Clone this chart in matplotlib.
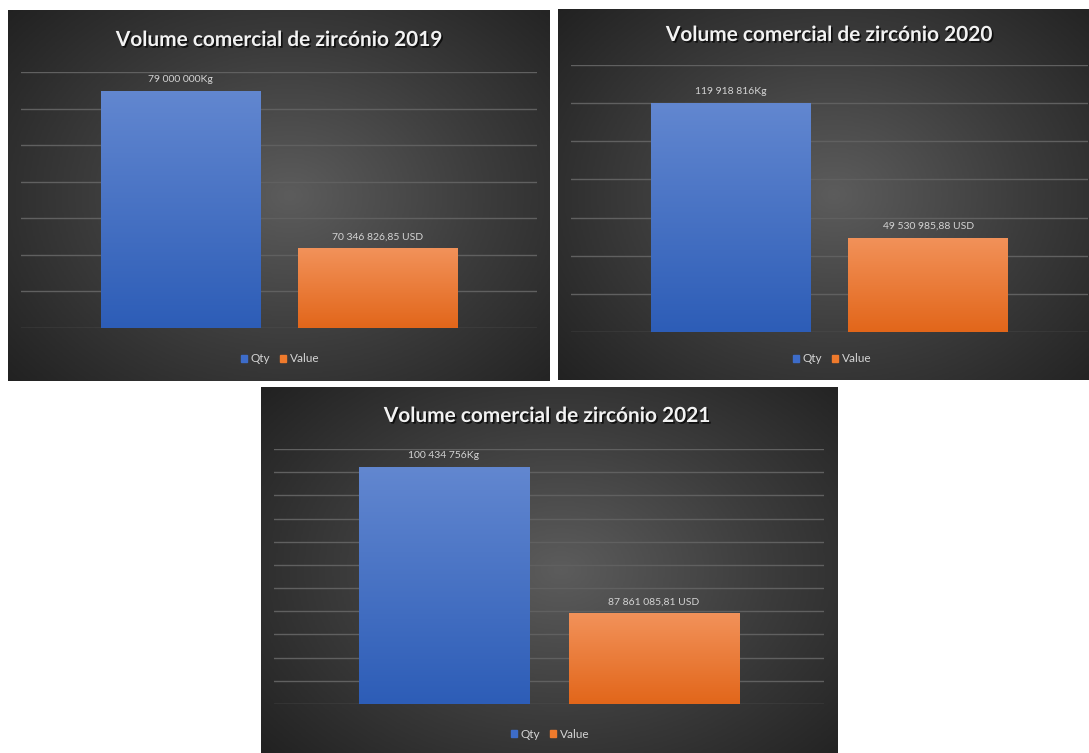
import numpy as np
import matplotlib
matplotlib.use("Agg")
import matplotlib.pyplot as plt
import matplotlib.patheffects as pe
from matplotlib.colors import LinearSegmentedColormap

# data
years = ["2019", "2020", "2021"]
qty_kg = [79000000, 119918816, 100434756]
value_usd = [70346826.85, 49530985.88, 87861085.81]
qty_labels = ["79 000 000Kg", "119 918 816Kg", "100 434 756Kg"]
value_labels = ["70 346 826,85 USD", "49 530 985,88 USD", "87 861 085,81 USD"]
series_names = ["Qty", "Value"]

# axis tops (primary / secondary) and number of gridline intervals per chart
qty_axis_max = [85.2e6, 140e6, 108.2e6]
value_axis_max = [225.6e6, 140e6, 247e6]
grid_steps = [7, 7, 11]

W, H = 1089, 753
# panel rectangles and plot areas in pixels: (x0, y0, x1, y1) from top-left
panels = [(8, 10, 550, 381), (558, 9, 1089, 380), (261, 387, 838, 753)]
plots = [(21, 72, 537, 328), (571, 65, 1088, 332), (274, 449, 824, 704)]
title_xy = [(280, 40), (830, 35), (548, 416)]
legend_xy = [(280, 359), (832, 359), (550, 734)]

blue_top, blue_bot = "#6287d0", "#2d5db7"
orange_top, orange_bot = "#f2925a", "#e2661a"
grid_col = "#606060"
text_col = "#d4d4d4"
narrow = ["Liberation Sans Narrow", "Lato", "DejaVu Sans"]


def fig_rect(box):
    x0, y0, x1, y1 = box
    return [x0 / W, (H - y1) / H, (x1 - x0) / W, (y1 - y0) / H]


def radial_bg(ax):
    yy, xx = np.mgrid[0:1:300j, 0:1:300j]
    r = np.sqrt(((xx - 0.52) / 0.72) ** 2 + ((yy - 0.5) / 0.8) ** 2)
    r = np.clip(r, 0, 1)
    cmap = LinearSegmentedColormap.from_list("bg", ["#5c5c5c", "#3c3c3c", "#1f1f1f"])
    ax.imshow(r, cmap=cmap, extent=(0, 1, 0, 1), aspect="auto", vmin=0, vmax=1)
    ax.set_xlim(0, 1)
    ax.set_ylim(0, 1)
    ax.axis("off")


def grad_fill(ax, rect, top, bot):
    x0, w, h = rect.get_x(), rect.get_width(), rect.get_height()
    g = np.linspace(0, 1, 256).reshape(-1, 1)
    cmap = LinearSegmentedColormap.from_list("b", [bot, top])
    im = ax.imshow(g, extent=(x0, x0 + w, 0, h), origin="lower", cmap=cmap,
                   aspect="auto", zorder=3)
    im.set_clip_path(rect)


fig = plt.figure(figsize=(W / 100, H / 100), dpi=100, facecolor="white")

for i in range(3):
    bg = fig.add_axes(fig_rect(panels[i]))
    radial_bg(bg)

    ax = fig.add_axes(fig_rect(plots[i]))
    ax.patch.set_alpha(0)
    ax2 = ax.twinx()
    ax2.patch.set_alpha(0)

    b1 = ax.bar([0], [qty_kg[i]], width=0.81, color=blue_bot, zorder=2)[0]
    b2 = ax2.bar([1], [value_usd[i]], width=0.81, color=orange_bot, zorder=2)[0]
    grad_fill(ax, b1, blue_top, blue_bot)
    grad_fill(ax2, b2, orange_top, orange_bot)

    ax.set_xlim(-0.81, 1.81)
    ax2.set_xlim(-0.81, 1.81)
    ax.set_ylim(0, qty_axis_max[i])
    ax2.set_ylim(0, value_axis_max[i])
    ax.set_yticks(np.linspace(0, qty_axis_max[i], grid_steps[i] + 1))
    ax.grid(axis="y", color=grid_col, lw=1)
    ax.set_axisbelow(True)
    for a in (ax, ax2):
        a.tick_params(left=False, right=False, bottom=False,
                      labelleft=False, labelright=False, labelbottom=False)
        for s in a.spines.values():
            s.set_visible(False)

    ax.annotate(qty_labels[i], (0, qty_kg[i]), xytext=(0, 5), textcoords="offset points",
                ha="center", va="bottom", color=text_col, fontsize=7.5, family=narrow, zorder=5)
    ax2.annotate(value_labels[i], (1, value_usd[i]), xytext=(0, 5), textcoords="offset points",
                 ha="center", va="bottom", color=text_col, fontsize=7.5, family=narrow, zorder=5)

    tx, ty = title_xy[i]
    fig.text(tx / W, 1 - ty / H, "Volume comercial de zircónio " + years[i],
             ha="center", va="center", color="#f2f2f2", fontsize=15, fontweight="bold",
             family=["Lato", "DejaVu Sans"],
             path_effects=[pe.withSimplePatchShadow(offset=(1.2, -1.2), shadow_rgbFace="black", alpha=0.7)])

    # legend
    lx, ly = legend_xy[i]
    handles = [plt.Rectangle((0, 0), 1, 1, color="#3d6cc9"), plt.Rectangle((0, 0), 1, 1, color="#ef7a2c")]
    fig.legend(handles, series_names, loc="center", bbox_to_anchor=(lx / W, 1 - ly / H),
               ncol=2, frameon=False, labelcolor=text_col,
               handlelength=0.55, handleheight=0.55, handletextpad=0.3, columnspacing=0.8,
               prop={"family": narrow, "size": 8.5})

fig.savefig("out.png", dpi=100, facecolor="white")
